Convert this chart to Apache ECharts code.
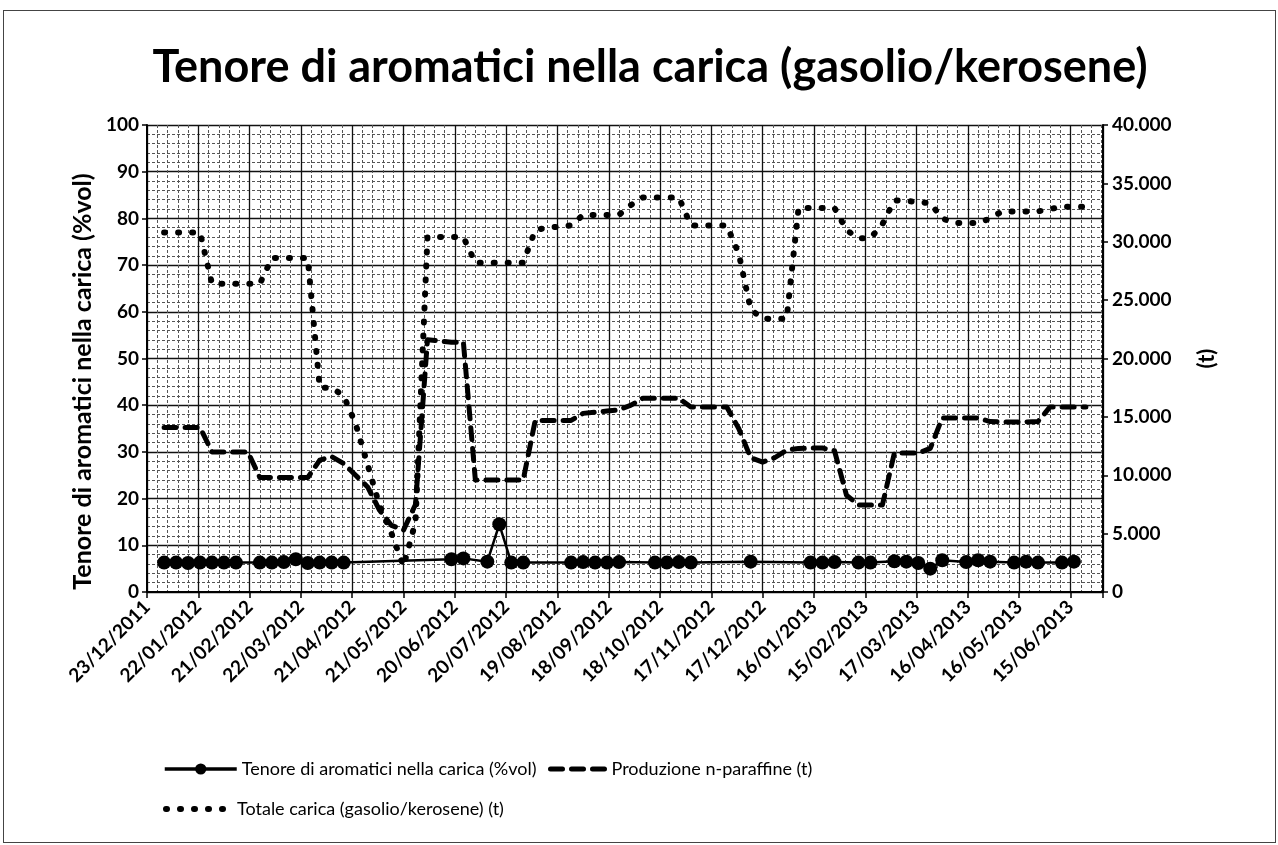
<!DOCTYPE html>
<html><head><meta charset="utf-8">
<script src="https://cdn.jsdelivr.net/npm/echarts@6/dist/echarts.min.js"></script>
<style>
html,body{margin:0;padding:0;background:#fff;}
#frame{position:absolute;left:3px;top:10px;width:1273px;height:833px;border:1px solid #444;box-sizing:border-box;}
#chart{position:absolute;left:0;top:0;width:1278px;height:845px;}
</style></head><body>
<div id="frame"></div>
<div id="chart"></div>
<script>
// ---- data ----
const titleText = 'Tenore di aromatici nella carica (gasolio/kerosene)';
const nameAro = 'Tenore di aromatici nella carica (%vol)';
const nameProd = 'Produzione n-paraffine (t)';
const nameTot = 'Totale carica (gasolio/kerosene) (t)';
// x tick labels, one every 30 days starting 23/12/2011 (day 0)
const tickLabels = ['23/12/2011','22/01/2012','21/02/2012','22/03/2012','21/04/2012','21/05/2012','20/06/2012',
  '20/07/2012','19/08/2012','18/09/2012','18/10/2012','17/11/2012','17/12/2012','16/01/2013','15/02/2013',
  '17/03/2013','16/04/2013','16/05/2013','15/06/2013'];
// sample dates, in days after 23/12/2011 (weekly)
const days = [10,17,24,31,38,45,52,59,66,73,80,87,94,101,108,115,122,129,136,143,150,157,164,171,178,185,192,199,
  206,213,220,227,234,241,248,255,262,269,276,283,290,297,304,311,318,325,332,339,346,353,360,367,374,381,388,395,
  402,409,416,423,430,437,444,451,458,465,472,479,486,493,500,507,514,521,528,535,542,549];
// Tenore di aromatici (%vol), null = no reading
const aromatici = [6.3,6.3,6.2,6.3,6.3,6.3,6.3,null,6.3,6.3,6.4,7.0,6.2,6.3,6.3,6.3,
  null,null,null,null,null,null,null,null,7.0,7.2,null,6.5,14.5,6.3,6.3,null,null,null,
  6.3,6.4,6.3,6.3,6.4,null,null,6.3,6.3,6.4,6.3,null,null,null,null,6.5,null,null,null,null,
  6.3,6.3,6.4,null,6.3,6.3,null,6.6,6.5,6.2,5.0,6.8,null,6.4,6.8,6.5,null,6.3,6.5,6.3,null,6.3,6.5,null];
// Produzione n-paraffine (t)
const produzione = [14100,14100,14100,14100,12000,12000,12000,12000,9800,9800,9800,9800,9800,11300,11600,11000,
  10000,9000,7000,5700,5300,7500,21600,21500,21400,21400,9600,9600,9600,9600,9600,14700,14700,14700,14700,15300,
  15400,15500,15600,16000,16600,16600,16600,16600,15850,15850,15850,15850,14000,11500,11130,11500,12150,12300,
  12330,12330,12100,8300,7450,7450,7450,11900,11900,11900,12300,14900,14900,14900,14900,14600,14560,14560,14560,
  14600,15850,15850,15850,15850];
// Totale carica (gasolio/kerosene) (t)
const totale = [30800,30800,30800,30800,26400,26400,26400,26400,26400,28600,28600,28600,28600,17500,17500,16800,
  14400,10900,7400,5000,2200,6000,30400,30400,30400,30400,28200,28200,28200,28200,28200,31000,31200,31300,31400,
  32300,32300,32300,32300,33150,33800,33800,33800,33800,31400,31400,31400,31400,29000,24200,23400,23400,23400,
  32900,32900,32900,32900,31000,30300,30300,31500,33550,33500,33400,33300,32000,31600,31600,31600,32000,32600,
  32600,32600,32600,32800,33000,33000,33000];

// ---- chart ----
const FONT = 'Lato, "Open Sans", sans-serif';
const pairs = (vals) => days.map((d, i) => [d, vals[i]]).filter(p => p[1] !== null);
const chart = echarts.init(document.getElementById('chart'), null, {renderer: 'canvas'});
const majorGrid = {show: true, lineStyle: {color: '#111', width: 1.3}};
const minorGrid = {show: true, lineStyle: {color: '#555', width: 1, type: [3, 2]}};
const aroLine = {color: '#000', width: 2.5};
const prodLine = {color: '#000', width: 5, type: [12, 9], cap: 'round', join: 'round'};
const totLine = {color: '#000', width: 6, type: [1, 13], cap: 'round', join: 'round'};
const legendText = {fontFamily: FONT, fontSize: 18, color: '#000'};
chart.setOption({
  animation: false,
  title: {
    text: titleText, left: 645, top: 40, textAlign: 'center',
    textStyle: {fontFamily: FONT, fontSize: 45, fontWeight: 'bold', color: '#000'}
  },
  legend: [
    {left: 158, top: 755, itemWidth: 72, itemHeight: 14, textStyle: legendText,
     data: [{name: nameAro, lineStyle: {color: '#000', width: 3.5}}]},
    {left: 543, top: 755, itemWidth: 56, itemHeight: 14, textStyle: legendText,
     data: [{name: nameProd, itemStyle: {opacity: 0}, lineStyle: prodLine}]},
    {left: 158, top: 795, itemWidth: 66, itemHeight: 14, textStyle: legendText,
     data: [{name: nameTot, itemStyle: {opacity: 0}, lineStyle: totLine}]}
  ],
  grid: {left: 147, right: 175, top: 125, bottom: 253, containLabel: false},
  xAxis: {
    type: 'value', min: 0, max: 559, interval: 30,
    axisLine: {show: true, lineStyle: {color: '#000', width: 2}},
    axisTick: {show: true, length: 6, lineStyle: {color: '#000', width: 1.5}},
    axisLabel: {
      rotate: 45, margin: 12, fontFamily: FONT, fontSize: 19, fontWeight: 'bold', color: '#000',
      formatter: v => (v % 30 === 0 && tickLabels[v / 30]) ? tickLabels[v / 30] : ''
    },
    splitLine: majorGrid,
    minorTick: {show: false, splitNumber: 5},
    minorSplitLine: minorGrid
  },
  yAxis: [
    {
      type: 'value', min: 0, max: 100, interval: 10, position: 'left',
      name: nameAro, nameLocation: 'middle', nameGap: 50,
      nameTextStyle: {fontFamily: FONT, fontSize: 25, fontWeight: 'bold', color: '#000', padding: [0, 46, 0, 0]},
      axisLine: {show: true, lineStyle: {color: '#000', width: 2}},
      axisTick: {show: true, length: 5, lineStyle: {color: '#000', width: 1.5}},
      axisLabel: {margin: 8, fontFamily: FONT, fontSize: 19, fontWeight: 'bold', color: '#000'},
      splitLine: majorGrid,
      minorTick: {show: false, splitNumber: 5},
      minorSplitLine: minorGrid
    },
    {
      type: 'value', min: 0, max: 40000, interval: 5000, position: 'right',
      name: '(t)', nameLocation: 'middle', nameGap: 93,
      nameTextStyle: {fontFamily: FONT, fontSize: 22, fontWeight: 'bold', color: '#000'},
      axisLine: {show: true, lineStyle: {color: '#000', width: 2}},
      axisTick: {show: true, length: 5, lineStyle: {color: '#000', width: 1.5}},
      axisLabel: {
        margin: 9, fontFamily: FONT, fontSize: 19, fontWeight: 'bold', color: '#000',
        formatter: v => v === 0 ? '0' : (v / 1000) + '.000'
      },
      splitLine: {show: false}
    }
  ],
  series: [
    {
      name: nameAro, type: 'line', yAxisIndex: 0, data: pairs(aromatici), connectNulls: true,
      symbol: 'circle', symbolSize: 14, showSymbol: true, z: 4,
      itemStyle: {color: '#000'}, lineStyle: aroLine
    },
    {
      name: nameProd, type: 'line', yAxisIndex: 1, data: pairs(produzione), symbol: 'none', z: 3,
      itemStyle: {color: '#000'}, lineStyle: prodLine
    },
    {
      name: nameTot, type: 'line', yAxisIndex: 1, data: pairs(totale), symbol: 'none', z: 3,
      itemStyle: {color: '#000'}, lineStyle: totLine
    }
  ]
});
</script>
</body></html>
